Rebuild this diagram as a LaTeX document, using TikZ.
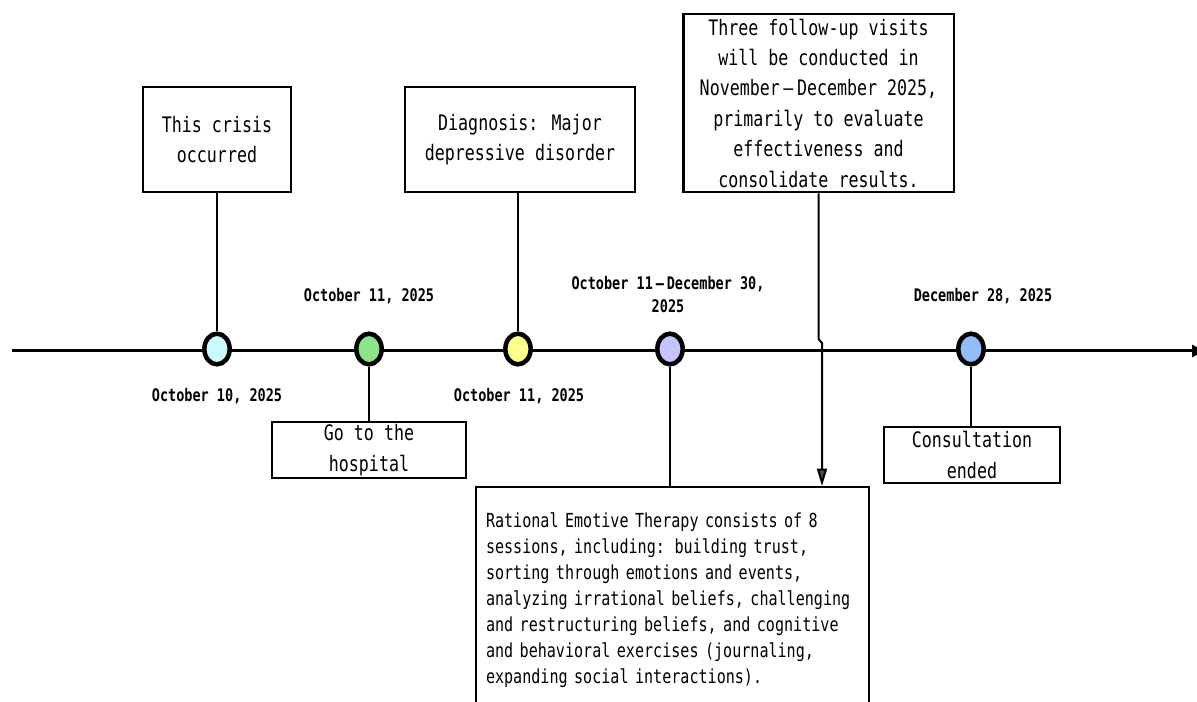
\documentclass[tikz,border=0pt]{standalone}
\usepackage{fontspec}
\usepackage{tikz}
\usetikzlibrary{shapes.geometric,arrows.meta,positioning}
\newfontfamily\gothic[FakeStretch=0.78]{DejaVu Sans Mono}
\definecolor{dotcyan}{HTML}{CCF8FF}
\definecolor{dotgreen}{HTML}{8EE488}
\definecolor{dotyellow}{HTML}{FFFF8C}
\definecolor{dotlilac}{HTML}{C4C4FA}
\definecolor{dotblue}{HTML}{94BCF8}

\begin{document}
\begin{tikzpicture}[x=0.75pt,y=-0.75pt]
            \tikzset{box/.style={draw,line width=1.5pt,align=center,inner sep=0pt,font=\gothic\fontsize{16pt}{22.8pt}\selectfont}}
            \tikzset{datelabel/.style={align=center,inner sep=0pt,font=\gothic\bfseries\fontsize{13pt}{17.3pt}\selectfont}}
            \tikzset{dot/.style={ellipse,draw,line width=3.4pt,minimum width=19pt,minimum height=23pt,inner sep=0pt}}
            \tikzset{link/.style={line width=1.5pt}}
            % \tikzset{link/.append style={gray}}
            \useasboundingbox (0,0) rectangle (1197,702);

            % time axis
            \coordinate (axis start) at (12,351);
            \coordinate (axis end) at (1204,351);
            \draw[line width=2.25pt,-{Triangle[length=9pt,width=9pt]}] (axis start) -- (axis end);

            \node[dot,fill=dotcyan] (crisis dot) at (217,349) {};
            \node[dot,fill=dotgreen] (hospital dot) at (369,349) {};
            \node[dot,fill=dotyellow] (diagnosis dot) at (518,349) {};
            \node[dot,fill=dotlilac] (therapy dot) at (670,349) {};
            \node[dot,fill=dotblue] (end dot) at (971,349) {};

            \node[datelabel] (crisis date) at (217,396) {October 10, 2025};
            \node[datelabel] (hospital date) at (369,296) {October 11, 2025};
            \node[datelabel] (diagnosis date) at (519,396) {October 11, 2025};
            \node[datelabel] (therapy date) at (668,295) {October 11\,–\,December 30,\\2025};
            \node[datelabel] (end date) at (983,296) {December 28, 2025};

            \node[box,minimum width=111pt,minimum height=78.75pt] (crisis) at (217,139.5) {This crisis\\occurred};
            \node[box,minimum width=172.5pt,minimum height=78.75pt] (diagnosis) at (520,139.5) {Diagnosis: Major\\depressive disorder};
            \node[box,line width=2pt,minimum width=203pt,minimum height=133.5pt] (followup) at (818.5,103)
                {Three follow-up visits\\will be conducted in\\November\,–\,December 2025,\\primarily to evaluate\\effectiveness and\\consolidate results.};
            \node[box,minimum width=145.5pt,minimum height=42pt] (hospital) at (369,450) {\rule{0pt}{8pt}Go to the\\hospital};
            \node[box,minimum width=132pt,minimum height=42pt] (end) at (972,455) {Consultation\\ended};
            \node[box,anchor=north west,align=left,text width=280pt,inner xsep=7.5pt,inner ysep=19pt,
                font=\gothic\fontsize{14.5pt}{19.5pt}\selectfont] (therapy) at (475,486)
                {Rational Emotive Therapy consists of 8\\
                 sessions, including: building trust,\\
                 sorting through emotions and events,\\
                 analyzing irrational beliefs, challenging\\
                 and restructuring beliefs, and cognitive\\
                 and behavioral exercises (journaling,\\
                 expanding social interactions).};

            % connectors
            \draw[link] (crisis.south) -- (crisis dot.north);
            \draw[link] (diagnosis dot.north |- diagnosis.south) -- (diagnosis dot.north);
            \draw[link] (hospital dot.south) -- (hospital dot.south |- hospital.north);
            \draw[link] (therapy dot.south) -- (therapy dot.south |- therapy.north);
            \draw[link] (end dot.south) -- (end dot.south |- end.north);
            \coordinate (jog top) at (818.5,339);
            \coordinate (jog low) at (822,343);
            \draw[link,-{Triangle[length=13pt,width=7.5pt,fill=black!70]}]
                (followup.south) -- (jog top) -- (jog low) -- (jog low |- therapy.north);
\end{tikzpicture}
\end{document}
